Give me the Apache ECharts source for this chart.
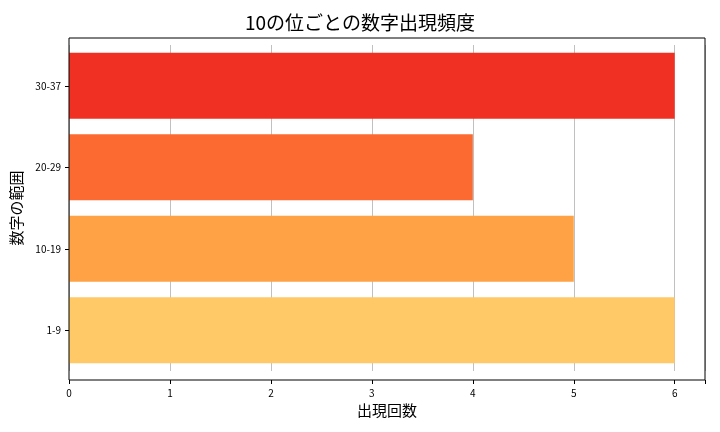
<!DOCTYPE html>
<html><head><meta charset="utf-8">
<script src="https://cdn.jsdelivr.net/npm/echarts@6/dist/echarts.min.js"></script>
<style>body{margin:0}#c{width:720px;height:432px}</style></head>
<body><div id="c"></div>
<script>
const categories = ['1-9','10-19','20-29','30-37'];
const counts = [6,5,4,6];
const colors = ['#fec966','#fea245','#fc6a32','#ef3022'];
const F = '"Noto Sans CJK JP", "DejaVu Sans", sans-serif';
const chart = echarts.init(document.getElementById('c'));
chart.setOption({
  animation:false,
  title:{text:'10の位ごとの数字出現頻度',left:'center',top:8,textStyle:{fontFamily:F,fontSize:19,fontWeight:'normal',color:'#000'}},
  grid:{left:69,right:15,top:45,bottom:61},
  xAxis:{type:'value',min:0,max:6.3,interval:1,offset:9,
    name:'出現回数',nameLocation:'middle',nameGap:20,nameTextStyle:{fontFamily:F,fontSize:15,color:'#000'},
    axisLine:{show:false},axisTick:{show:true,length:4,lineStyle:{color:'#000'}},
    axisLabel:{fontFamily:F,fontSize:10,color:'#000',formatter:v=>Number.isInteger(v)?String(v):''},
    splitLine:{show:true,lineStyle:{color:'#b0b0b0',width:0.8}}},
  yAxis:{type:'category',data:categories,
    name:'数字の範囲',nameLocation:'middle',nameGap:45,nameRotate:90,nameTextStyle:{fontFamily:F,fontSize:15,color:'#000'},
    axisLine:{show:false},axisTick:{show:true,alignWithLabel:true,length:4,lineStyle:{color:'#000'}},
    axisLabel:{fontFamily:F,fontSize:10,color:'#000'},splitLine:{show:false}},
  graphic:[{type:'rect',shape:{x:69,y:38,width:636,height:342},style:{fill:'none',stroke:'#000',lineWidth:1},z:100}],
  series:[{type:'bar',barCategoryGap:'19%',
    data:counts.map((v,i)=>({value:v,itemStyle:{color:colors[i]}}))}]
});
</script></body></html>
